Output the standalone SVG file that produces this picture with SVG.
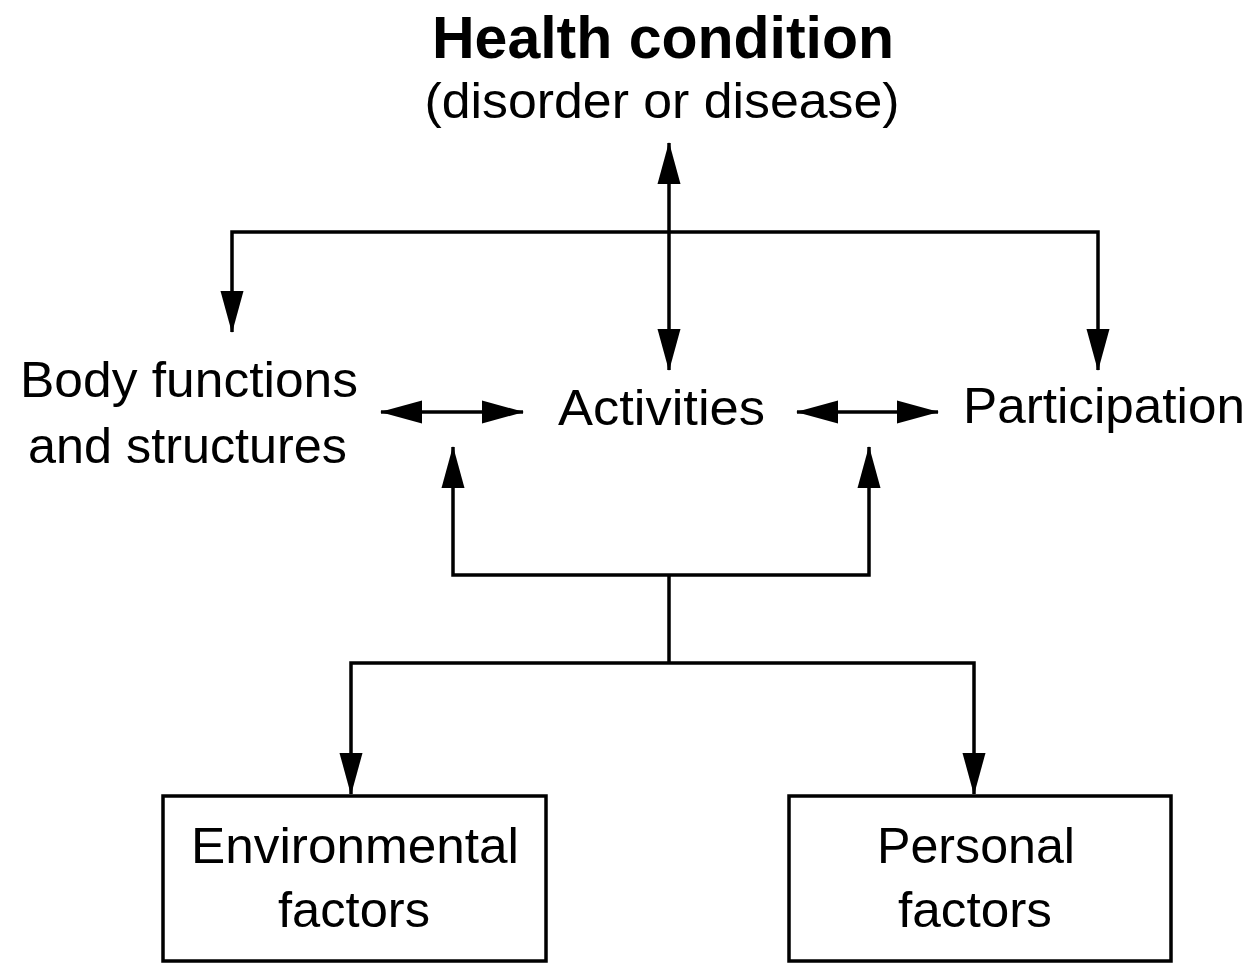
<svg xmlns="http://www.w3.org/2000/svg" width="1257" height="963" viewBox="0 0 1257 963">
<defs>
<style>
.t{font-family:"Liberation Sans",Arial,sans-serif;font-size:50px;fill:#000}
.b{font-weight:bold;font-size:59px}
.c{fill:none;stroke:#000;stroke-width:3.5}
.box{fill:#fff;stroke:#000;stroke-width:3.5}
</style>
<marker id="ah" markerUnits="userSpaceOnUse" markerWidth="42" markerHeight="26" viewBox="0 0 42 26" refX="41" refY="13" orient="auto-start-reverse">
<path d="M0,1.5 L42,13 L0,24.5 z" fill="#000"/>
</marker>
</defs>
<g id="connectors">
<line class="c" x1="669" y1="143" x2="669" y2="370" marker-start="url(#ah)" marker-end="url(#ah)"/>
<polyline class="c" points="232,332 232,232 1098,232 1098,370" marker-start="url(#ah)" marker-end="url(#ah)"/>
<line class="c" x1="381" y1="412" x2="523" y2="412" marker-start="url(#ah)" marker-end="url(#ah)"/>
<line class="c" x1="797" y1="412" x2="938" y2="412" marker-start="url(#ah)" marker-end="url(#ah)"/>
<polyline class="c" points="453,447 453,575 869,575 869,447" marker-start="url(#ah)" marker-end="url(#ah)"/>
<line class="c" x1="669" y1="575" x2="669" y2="663"/>
<polyline class="c" points="351,794 351,663 974,663 974,794" marker-start="url(#ah)" marker-end="url(#ah)"/>
</g>
<g id="health">
<text class="t b" x="663" y="58" text-anchor="middle" textLength="462" lengthAdjust="spacingAndGlyphs">Health condition</text>
<text class="t" x="662" y="118" text-anchor="middle" textLength="475" lengthAdjust="spacingAndGlyphs">(disorder or disease)</text>
</g>
<g id="body">
<text class="t" x="20" y="397" textLength="338" lengthAdjust="spacingAndGlyphs">Body functions</text>
<text class="t" x="28" y="463" textLength="319" lengthAdjust="spacingAndGlyphs">and structures</text>
</g>
<g id="activities">
<text class="t" x="558" y="425" textLength="207" lengthAdjust="spacingAndGlyphs">Activities</text>
</g>
<g id="participation">
<text class="t" x="963" y="423" textLength="282" lengthAdjust="spacingAndGlyphs">Participation</text>
</g>
<g id="environmental">
<rect class="box" x="163" y="796" width="383" height="165"/>
<text class="t" x="355" y="863" text-anchor="middle" textLength="328" lengthAdjust="spacingAndGlyphs">Environmental</text>
<text class="t" x="354" y="927" text-anchor="middle" textLength="152" lengthAdjust="spacingAndGlyphs">factors</text>
</g>
<g id="personal">
<rect class="box" x="789" y="796" width="382" height="165"/>
<text class="t" x="976" y="863" text-anchor="middle" textLength="198" lengthAdjust="spacingAndGlyphs">Personal</text>
<text class="t" x="975" y="927" text-anchor="middle" textLength="154" lengthAdjust="spacingAndGlyphs">factors</text>
</g>
</svg>
